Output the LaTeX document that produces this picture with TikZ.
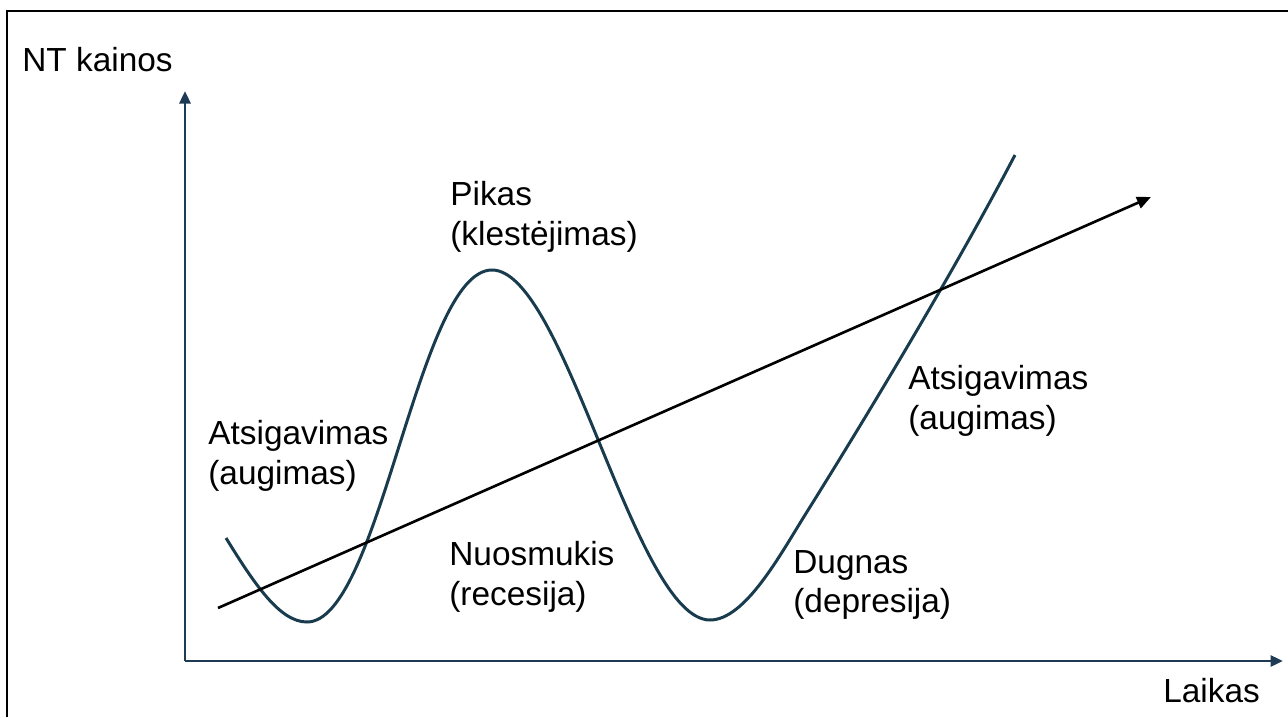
\documentclass[tikz,border=0pt]{standalone}
\usepackage{fontspec}
\setmainfont{Liberation Sans}
\usetikzlibrary{arrows.meta}
\definecolor{axisnavy}{HTML}{1E3A54}
\definecolor{curvenavy}{HTML}{183C4E}

\begin{document}
\begin{tikzpicture}[
    x=0.02cm, y=-0.02cm,
    lbl/.style={anchor=north west, inner sep=0pt, align=left,
                font=\fontsize{19}{22.5}\selectfont},
    axis/.style={-{Triangle[length=2.5mm, width=2.2mm]}, line width=1.6pt, draw=axisnavy},
    trend/.style={-{Triangle[length=2.8mm, width=2.4mm]}, line width=1.5pt},
    cyclecurve/.style={line width=1.7pt, draw=curvenavy}
]
\useasboundingbox (0,0) rectangle (1288,717);
% frame
\draw[line width=1.6pt] (7,717) |- (1288,11);

% axes
\coordinate (origin) at (185,661);
\coordinate (ytip) at (185,91);
\coordinate (xtip) at (1283,661);
\draw[axis] (origin) -- (ytip);
\draw[axis] (origin) -- (xtip);
\node[lbl] (ylbl) at (22,47) {NT kainos};
\node[lbl] (xlbl) at (1163,678) {Laikas};

% cycle
\coordinate (start) at (226,538);
\coordinate (low1) at (307,622);
\coordinate (peak) at (492,270);
\coordinate (low2) at (710,620);
\coordinate (bend) at (805,515);
\coordinate (finish) at (1015,155);
\draw[cyclecurve] (start) .. controls (255,585) and (280,622) .. (low1)
    .. controls (380,622) and (418,270) .. (peak)
    .. controls (565,270) and (635,620) .. (low2)
    .. controls (745,620) and (780,555) .. (bend)
    .. controls (880,395) and (960,260) .. (finish);

% trend
\coordinate (tstart) at (218,608);
\coordinate (tend) at (1151,197);
\draw[trend] (tstart) -- (tend);

% phases
\node[lbl] (recov1) at (208,420) {Atsigavimas\\(augimas)};
\node[lbl] (top) at (450,181) {Pikas\\(klestėjimas)};
\node[lbl] (recess) at (449,541) {Nuosmukis\\(recesija)};
\node[lbl] (bottom) at (793,550) {Dugnas\\(depresija)};
\node[lbl] (recov2) at (908,365) {Atsigavimas\\(augimas)};
\end{tikzpicture}
\end{document}
